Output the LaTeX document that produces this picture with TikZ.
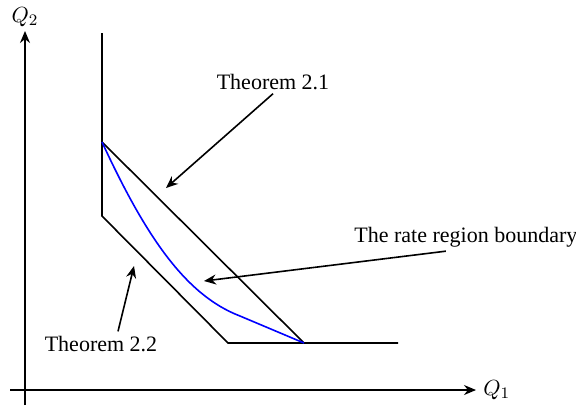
\documentclass[tikz,border=0pt]{standalone}
\usepackage{fontspec}
\setmainfont{Liberation Serif}
\usetikzlibrary{arrows.meta, positioning}
\tikzset{
    texto_etiqueta/.style={inner sep=2pt, font=\fontsize{11}{13}\selectfont},
    linea_region/.style={draw=black, line width=0.8pt},
    curva_frontera/.style={draw=blue, line width=0.8pt},
    eje/.style={draw, line width=0.8pt, -{Stealth[length=6pt, width=5pt]}},
    flecha/.style={draw, line width=0.8pt, -{Stealth[length=6pt, width=5pt]}}
}
\begin{document}
\begin{tikzpicture}[x=0.5pt, y=-0.5pt]
    \useasboundingbox (0,0) rectangle (576,409);

    % 1. Ejes
    \coordinate (origen_x) at (10,390);
    \coordinate (q1_fin) at (476,390);
    \coordinate (origen_y) at (25,405);
    \coordinate (q2_fin) at (25,31);
    \draw[eje] (origen_x) -- (q1_fin);
    \draw[eje] (origen_y) -- (q2_fin);
    \node[texto_etiqueta, right=1.5pt of q1_fin] (q1) {$Q_1$};
    \node[texto_etiqueta, above=0pt of q2_fin] (q2) {$Q_2$};

    % 2. Regiones (Theorem 2.1 / Theorem 2.2)
    \coordinate (vert_sup) at (102,33);
    \coordinate (vert_inf) at (102,216);
    \coordinate (esq_inf) at (228,343);
    \coordinate (horiz_fin) at (398,343);
    \coordinate (pico) at (102,142);
    \coordinate (pie_diag) at (304,343);
    \draw[linea_region] (vert_sup) -- (vert_inf) -- (esq_inf) -- (horiz_fin);
    \draw[linea_region] (pico) -- (pie_diag);

    % 3. Frontera de la region
    \draw[curva_frontera] (pico) .. controls (145,235) and (185,295) .. (240,316) -- (pie_diag);

    % 4. Etiquetas
    \node[texto_etiqueta, anchor=base] (thm1) at (273,89) {Theorem 2.1};
    \node[texto_etiqueta, anchor=base west] (rate) at (350,242) {The rate region boundary};
    \node[texto_etiqueta, anchor=base] (thm2) at (101,351) {Theorem 2.2};

    % --- CONEXIONES ---
    \coordinate (punta_thm1) at (166,188);
    \coordinate (punta_rate) at (204,281);
    \coordinate (punta_thm2) at (134,266);
    \draw[flecha] (thm1.south) -- (punta_thm1);
    \draw[flecha] ([xshift=-10pt]rate.south) -- (punta_rate);
    \draw[flecha] ([xshift=8.5pt]thm2.north) -- (punta_thm2);

\end{tikzpicture}
\end{document}
